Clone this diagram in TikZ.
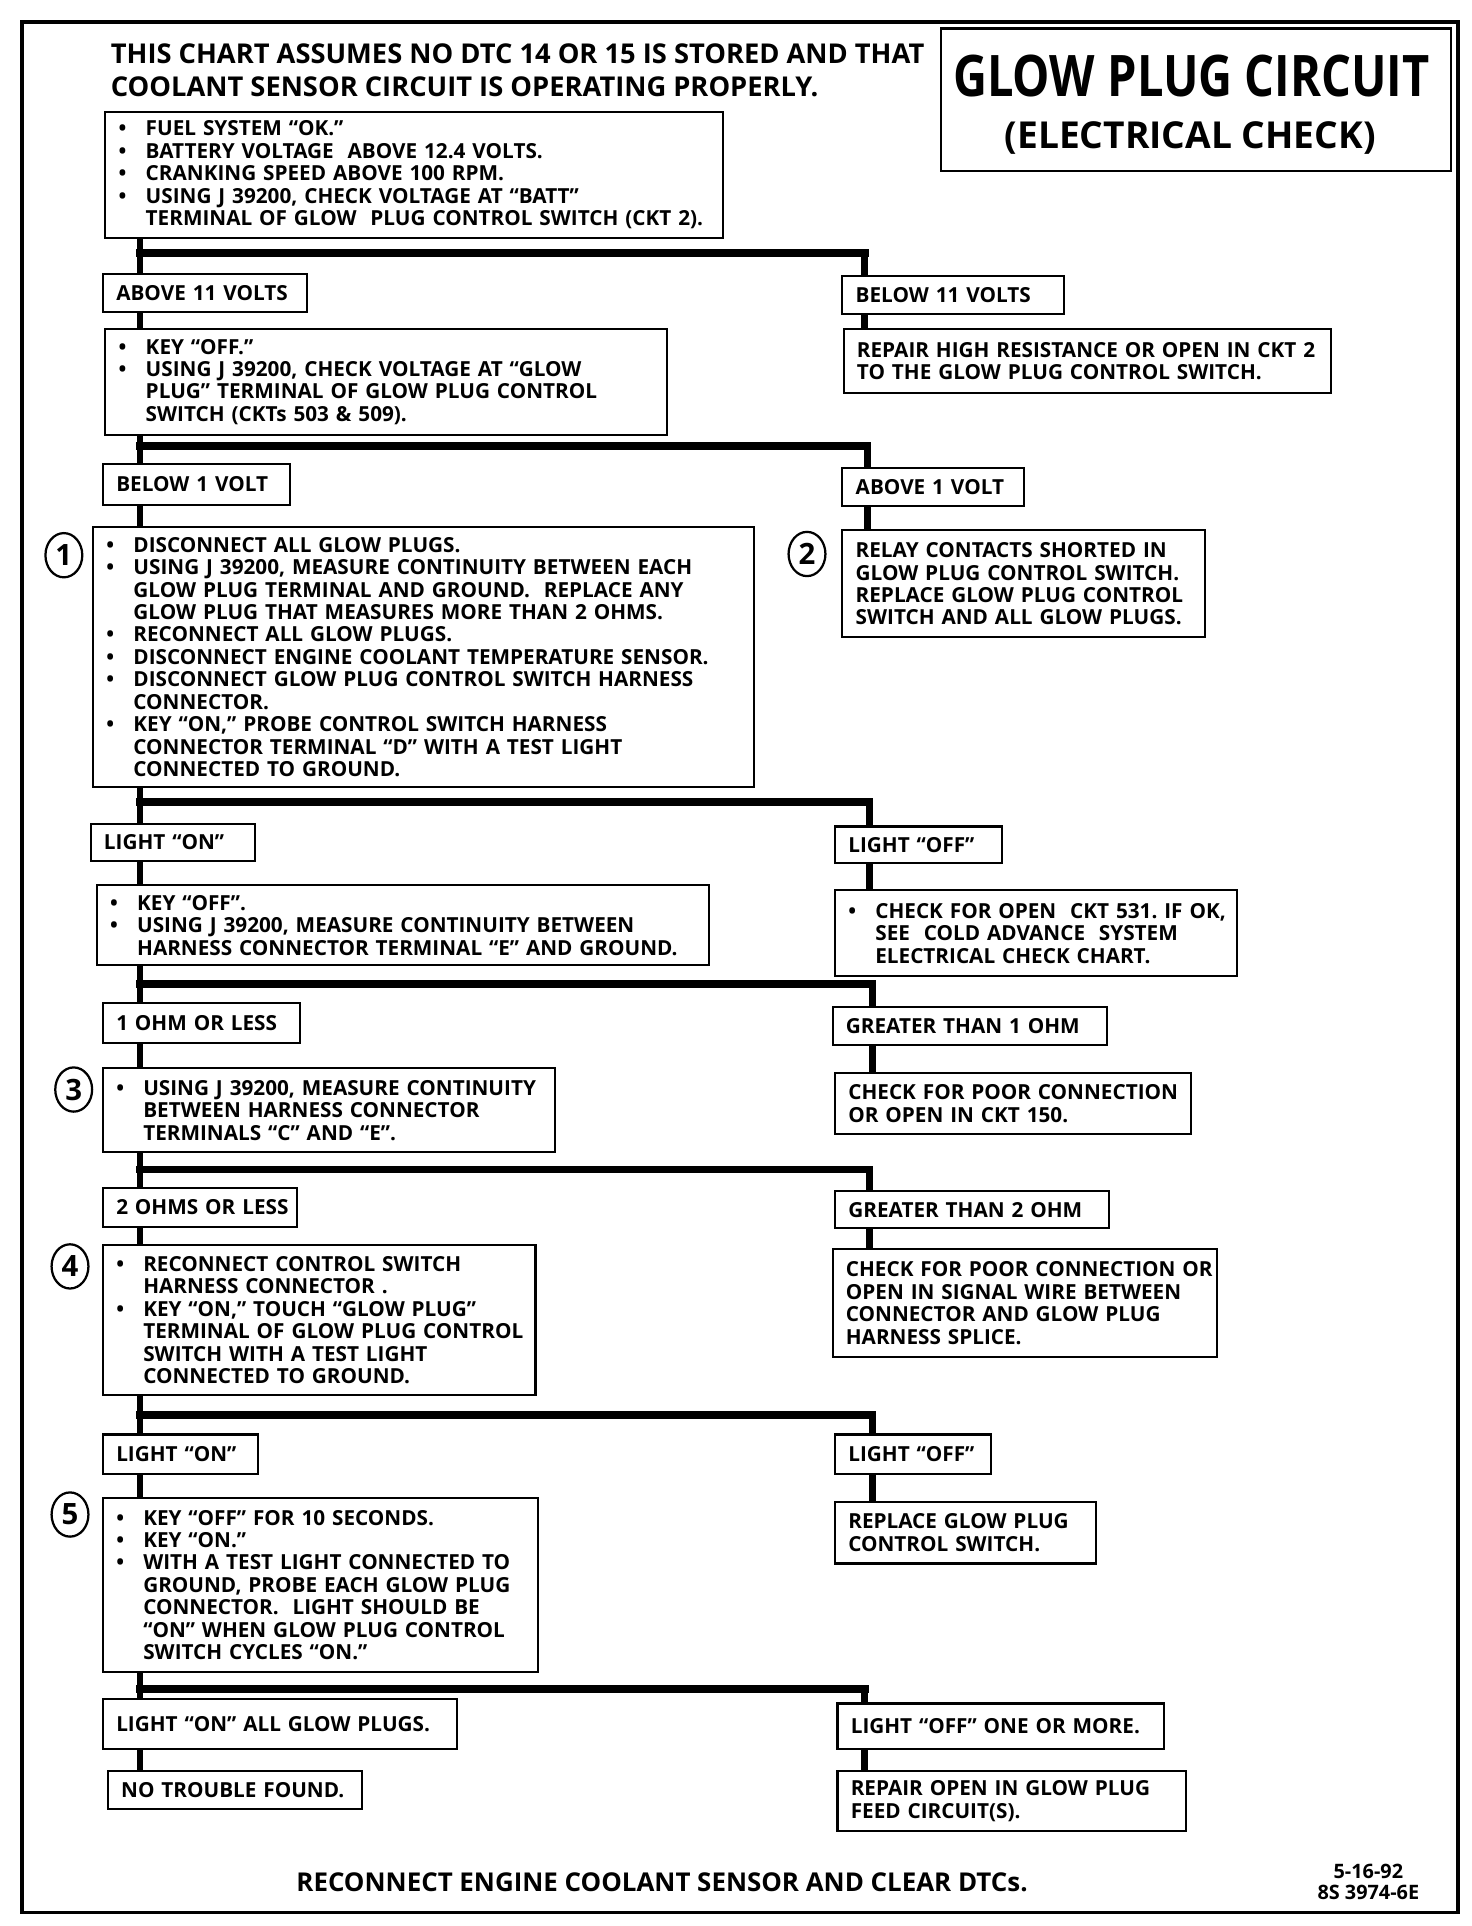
\documentclass[tikz,border=0pt]{standalone}
\usepackage{fontspec}
\usepackage{graphicx}
\setmainfont{Open Sans}
\usetikzlibrary{shapes.geometric}
\frenchspacing
\newcommand{\bitem}[1]{\mbox{\makebox[0.55cm][l]{\textbullet}#1}}
\newcommand{\bcont}[1]{\mbox{\hspace*{0.55cm}#1}}
\tikzset{
  font=\bfseries\fontsize{12}{13}\selectfont,
  stepbox/.style={
    draw, line width=1.2pt, anchor=north west, align=left,
    inner xsep=0.27cm, inner ysep=2pt
  },
  labelbox/.style={stepbox},
  resultbox/.style={stepbox},
  stepnum/.style={
    ellipse, draw, line width=1.3pt, inner sep=0pt,
    minimum width=0.75cm, minimum height=0.9cm,
    font=\bfseries\fontsize{17}{17}\selectfont
  },
  wire/.style={line width=4pt},
  bus/.style={line width=4.4pt, line cap=rect},
  frame/.style={line width=2.2pt}
}
\begin{document}
\begin{tikzpicture}[x=0.025cm, y=-0.025cm]

  \fill[white] (0,0) rectangle (1198,1568);
  \useasboundingbox (0,0) rectangle (1198,1568);
  \draw[frame] (18,18) rectangle (1187,1557);

  % Heading
  \node[anchor=north west, align=left, inner sep=0pt, font=\bfseries\fontsize{15.8}{19.1}\selectfont] (assume) at (90,35) {
    THIS CHART ASSUMES NO DTC 14 OR 15 IS STORED AND THAT\\
    COOLANT SENSOR CIRCUIT IS OPERATING PROPERLY.};
  \node[draw, line width=1.6pt, anchor=north west, minimum width=10.375cm, minimum height=2.9cm] (titlebox) at (765,22) {};
  \node (title) at (970,62) {\fontsize{27.2}{28}\selectfont\scalebox{1}[1.22]{GLOW PLUG CIRCUIT}};
  \node (subtitle) at (969,112) {\fontsize{21.5}{24}\selectfont (ELECTRICAL CHECK)};

  % Preconditions
  \node[stepbox, text width=12.035cm, minimum height=2.575cm] (inputs) at (85,90) {
    \bitem{FUEL SYSTEM “OK.”}\\
    \bitem{BATTERY VOLTAGE\ \ ABOVE 12.4 VOLTS.}\\
    \bitem{CRANKING SPEED ABOVE 100 RPM.}\\
    \bitem{USING J 39200, CHECK VOLTAGE AT “BATT”}\\
    \bcont{TERMINAL OF GLOW\ \ PLUG CONTROL SWITCH (CKT 2).}};

  \node[labelbox, text width=3.61cm, minimum height=0.775cm] (abv11) at (83,222) {\mbox{ABOVE 11 VOLTS}};
  \node[labelbox, text width=3.96cm, minimum height=0.775cm] (blw11) at (685,224) {\mbox{BELOW 11 VOLTS}};

  \node[stepbox, text width=10.885cm, minimum height=2.15cm] (keyoff) at (85,267) {
    \bitem{KEY “OFF.”}\\
    \bitem{USING J 39200, CHECK VOLTAGE AT “GLOW}\\
    \bcont{PLUG” TERMINAL OF GLOW PLUG CONTROL}\\
    \bcont{SWITCH (CKTs 503 \& 509).}};
  \node[resultbox, text width=9.385cm, minimum height=1.3cm] (repairckt) at (686,267) {
    \mbox{REPAIR HIGH RESISTANCE OR OPEN IN CKT 2}\\
    \mbox{TO THE GLOW PLUG CONTROL SWITCH.}};

  \node[labelbox, text width=3.26cm, minimum height=0.825cm] (blw1) at (83,377) {\mbox{BELOW 1 VOLT}};
  \node[labelbox, text width=3.16cm, minimum height=0.775cm] (abv1) at (685,380) {\mbox{ABOVE 1 VOLT}};

  % Step 1 and 2
  \node[stepbox, text width=12.91cm, minimum height=5.3cm] (stepone) at (75,428) {
    \bitem{DISCONNECT ALL GLOW PLUGS.}\\
    \bitem{USING J 39200, MEASURE CONTINUITY BETWEEN EACH}\\
    \bcont{GLOW PLUG TERMINAL AND GROUND.\ \ REPLACE ANY}\\
    \bcont{GLOW PLUG THAT MEASURES MORE THAN 2 OHMS.}\\
    \bitem{RECONNECT ALL GLOW PLUGS.}\\
    \bitem{DISCONNECT ENGINE COOLANT TEMPERATURE SENSOR.}\\
    \bitem{DISCONNECT GLOW PLUG CONTROL SWITCH HARNESS}\\
    \bcont{CONNECTOR.}\\
    \bitem{KEY “ON,” PROBE CONTROL SWITCH HARNESS}\\
    \bcont{CONNECTOR TERMINAL “D” WITH A TEST LIGHT}\\
    \bcont{CONNECTED TO GROUND.}};
  \node[stepnum] (num1) at (52,452) {1};
  \node[resultbox, text width=6.835cm, minimum height=2.175cm] (steptwo) at (685,431) {
    \mbox{RELAY CONTACTS SHORTED IN}\\
    \mbox{GLOW PLUG CONTROL SWITCH.}\\
    \mbox{REPLACE GLOW PLUG CONTROL}\\
    \mbox{SWITCH AND ALL GLOW PLUGS.}};
  \node[stepnum] (num2) at (657,451) {2};

  \node[labelbox, text width=2.81cm, minimum height=0.75cm] (lton1) at (73,670) {\mbox{LIGHT “ON”}};
  \node[labelbox, text width=2.86cm, minimum height=0.75cm] (ltoff1) at (679,672) {\mbox{LIGHT “OFF”}};

  \node[stepbox, text width=11.91cm, minimum height=1.625cm] (contE) at (78,720) {
    \bitem{KEY “OFF”.}\\
    \bitem{USING J 39200, MEASURE CONTINUITY BETWEEN}\\
    \bcont{HARNESS CONNECTOR TERMINAL “E” AND GROUND.}};
  \node[resultbox, text width=7.635cm, minimum height=1.75cm] (ckt531) at (679,724) {
    \bitem{CHECK FOR OPEN\ \ CKT 531. IF OK,}\\
    \bcont{SEE\ \ COLD ADVANCE\ \ SYSTEM}\\
    \bcont{ELECTRICAL CHECK CHART.}};

  \node[labelbox, text width=3.46cm, minimum height=0.8cm] (ohm1less) at (83,816) {\mbox{1 OHM OR LESS}};
  \node[labelbox, text width=5.035cm, minimum height=0.775cm] (ohm1more) at (677,819) {\mbox{GREATER THAN 1 OHM}};

  % Step 3
  \node[stepbox, text width=8.66cm, minimum height=1.7cm] (stepthree) at (83,869) {
    \bitem{USING J 39200, MEASURE CONTINUITY}\\
    \bcont{BETWEEN HARNESS CONNECTOR}\\
    \bcont{TERMINALS “C” AND “E”.}};
  \node[stepnum] (num3) at (60,887) {3};
  \node[resultbox, text width=6.71cm, minimum height=1.225cm] (ckt150) at (679,873) {
    \mbox{CHECK FOR POOR CONNECTION}\\
    \mbox{OR OPEN IN CKT 150.}};

  \node[labelbox, text width=3.41cm, minimum height=0.8cm] (ohm2less) at (83,966) {\mbox{2 OHMS OR LESS}};
  \node[labelbox, text width=5.035cm, minimum height=0.75cm] (ohm2more) at (679,969) {\mbox{GREATER THAN 2 OHM}};

  % Step 4
  \node[stepbox, text width=8.26cm, minimum height=3.05cm] (stepfour) at (83,1013) {
    \bitem{RECONNECT CONTROL SWITCH}\\
    \bcont{HARNESS CONNECTOR .}\\
    \bitem{KEY “ON,” TOUCH “GLOW PLUG”}\\
    \bcont{TERMINAL OF GLOW PLUG CONTROL}\\
    \bcont{SWITCH WITH A TEST LIGHT}\\
    \bcont{CONNECTED TO GROUND.}};
  \node[stepnum] (num4) at (57,1031) {4};
  \node[resultbox, text width=7.285cm, minimum height=2.2cm] (splice) at (677,1016) {
    \mbox{CHECK FOR POOR CONNECTION OR}\\
    \mbox{OPEN IN SIGNAL WIRE BETWEEN}\\
    \mbox{CONNECTOR AND GLOW PLUG}\\
    \mbox{HARNESS SPLICE.}};

  \node[labelbox, text width=2.61cm, minimum height=0.8cm] (lton2) at (83,1167) {\mbox{LIGHT “ON”}};
  \node[labelbox, text width=2.635cm, minimum height=0.8cm] (ltoff2) at (679,1167) {\mbox{LIGHT “OFF”}};

  % Step 5
  \node[stepbox, text width=8.31cm, minimum height=3.525cm] (stepfive) at (83,1219) {
    \bitem{KEY “OFF” FOR 10 SECONDS.}\\
    \bitem{KEY “ON.”}\\
    \bitem{WITH A TEST LIGHT CONNECTED TO}\\
    \bcont{GROUND, PROBE EACH GLOW PLUG}\\
    \bcont{CONNECTOR.\ \ LIGHT SHOULD BE}\\
    \bcont{“ON” WHEN GLOW PLUG CONTROL}\\
    \bcont{SWITCH CYCLES “ON.”}};
  \node[stepnum] (num5) at (57,1233) {5};
  \node[resultbox, text width=4.76cm, minimum height=1.25cm] (replsw) at (679,1222) {
    \mbox{REPLACE GLOW PLUG}\\
    \mbox{CONTROL SWITCH.}};

  \node[labelbox, text width=6.66cm, minimum height=1.025cm] (allon) at (83,1382) {\mbox{LIGHT “ON” ALL GLOW PLUGS.}};
  \node[labelbox, text width=6.11cm, minimum height=0.925cm] (oneoff) at (681,1386) {\mbox{LIGHT “OFF” ONE OR MORE.}};
  \node[resultbox, text width=4.635cm, minimum height=0.775cm] (ntf) at (87,1441) {\mbox{NO TROUBLE FOUND.}};
  \node[resultbox, text width=6.56cm, minimum height=1.225cm] (feedckt) at (681,1441) {
    \mbox{REPAIR OPEN IN GLOW PLUG}\\
    \mbox{FEED CIRCUIT(S).}};

  % Closing
  \node[font=\bfseries\fontsize{15}{18}\selectfont] (closing) at (539,1532) {RECONNECT ENGINE COOLANT SENSOR AND CLEAR DTCs.};
  \node[align=center, font=\bfseries\fontsize{11.5}{12.3}\selectfont] (figid) at (1114,1532) {5-16-92\\8S 3974-6E};

  % Branch points
  \coordinate (split1) at (114,206);  \coordinate (split1r) at (704,206);
  \coordinate (split2) at (114,363);  \coordinate (split2r) at (706,363);
  \coordinate (split3) at (114,653);  \coordinate (split3r) at (708,653);
  \coordinate (split4) at (114,801);  \coordinate (split4r) at (710,801);
  \coordinate (split5) at (114,952);  \coordinate (split5r) at (708,952);
  \coordinate (split6) at (114,1152); \coordinate (split6r) at (710,1152);
  \coordinate (split7) at (114,1375); \coordinate (split7r) at (704,1375);

  % Connections
  \draw[wire] (inputs.south -| split1) -- (abv11.north -| split1);
  \draw[bus] (split1) -- (split1r);
  \draw[wire] (split1r) -- (blw11.north -| split1r);
  \draw[wire] (abv11.south -| split1) -- (keyoff.north -| split1);
  \draw[wire] (blw11.south -| split1r) -- (repairckt.north -| split1r);

  \draw[wire] (keyoff.south -| split2) -- (blw1.north -| split2);
  \draw[bus] (split2) -- (split2r);
  \draw[wire] (split2r) -- (abv1.north -| split2r);
  \draw[wire] (blw1.south -| split2) -- (stepone.north -| split2);
  \draw[wire] (abv1.south -| split2r) -- (steptwo.north -| split2r);

  \draw[wire] (stepone.south -| split3) -- (lton1.north -| split3);
  \draw[bus] (split3) -- (split3r);
  \draw[wire] (split3r) -- (ltoff1.north -| split3r);
  \draw[wire] (lton1.south -| split3) -- (contE.north -| split3);
  \draw[wire] (ltoff1.south -| split3r) -- (ckt531.north -| split3r);

  \draw[wire] (contE.south -| split4) -- (ohm1less.north -| split4);
  \draw[bus] (split4) -- (split4r);
  \draw[wire] (split4r) -- (ohm1more.north -| split4r);
  \draw[wire] (ohm1less.south -| split4) -- (stepthree.north -| split4);
  \draw[wire] (ohm1more.south -| split4r) -- (ckt150.north -| split4r);

  \draw[wire] (stepthree.south -| split5) -- (ohm2less.north -| split5);
  \draw[bus] (split5) -- (split5r);
  \draw[wire] (split5r) -- (ohm2more.north -| split5r);
  \draw[wire] (ohm2less.south -| split5) -- (stepfour.north -| split5);
  \draw[wire] (ohm2more.south -| split5r) -- (splice.north -| split5r);

  \draw[wire] (stepfour.south -| split6) -- (lton2.north -| split6);
  \draw[bus] (split6) -- (split6r);
  \draw[wire] (split6r) -- (ltoff2.north -| split6r);
  \draw[wire] (lton2.south -| split6) -- (stepfive.north -| split6);
  \draw[wire] (ltoff2.south -| split6r) -- (replsw.north -| split6r);

  \draw[wire] (stepfive.south -| split7) -- (allon.north -| split7);
  \draw[bus] (split7) -- (split7r);
  \draw[wire] (split7r) -- (oneoff.north -| split7r);
  \draw[wire] (allon.south -| split7) -- (ntf.north -| split7);
  \draw[wire] (oneoff.south -| split7r) -- (feedckt.north -| split7r);

\end{tikzpicture}
\end{document}
